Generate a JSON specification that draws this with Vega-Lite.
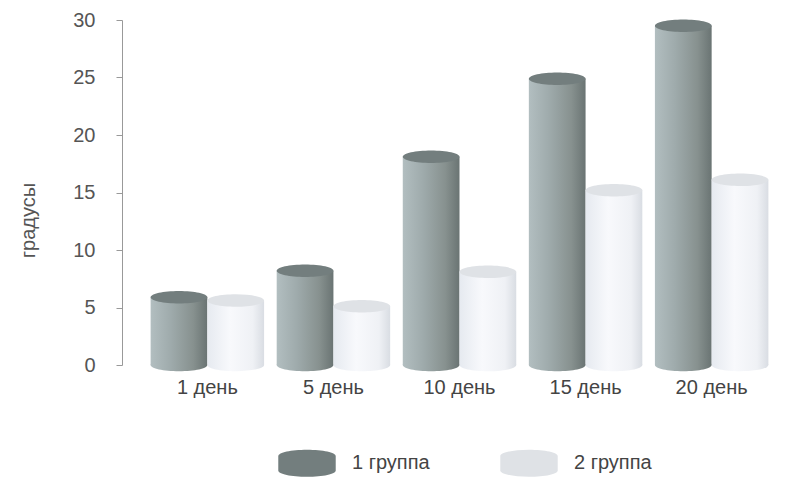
{
  "$schema": "https://vega.github.io/schema/vega-lite/v6.json",
  "autosize": {"type": "none"},
  "padding": {"left": 122, "top": 20, "right": 0, "bottom": 117},
  "width": 675,
  "height": 345,
  "background": "white",
  "config": {
    "view": {"stroke": null},
    "font": "Liberation Sans",
    "axis": {"grid": false, "labelFont": "Liberation Sans", "titleFont": "Liberation Sans"}
  },
  "data": {
    "values": [
      {"day": "1 день", "group": "1 группа", "value": 5.9},
      {"day": "1 день", "group": "2 группа", "value": 5.6},
      {"day": "5 день", "group": "1 группа", "value": 8.2},
      {"day": "5 день", "group": "2 группа", "value": 5.1},
      {"day": "10 день", "group": "1 группа", "value": 18.1},
      {"day": "10 день", "group": "2 группа", "value": 8.1},
      {"day": "15 день", "group": "1 группа", "value": 24.9},
      {"day": "15 день", "group": "2 группа", "value": 15.2},
      {"day": "20 день", "group": "1 группа", "value": 29.5},
      {"day": "20 день", "group": "2 группа", "value": 16.1}
    ]
  },
  "encoding": {
    "x": {
      "field": "day", "type": "nominal", "sort": null,
      "scale": {"paddingInner": 0.1, "paddingOuter": 0.227},
      "axis": {"title": null, "domain": false, "ticks": false, "labelAngle": 0, "labelFontSize": 20, "labelColor": "#444", "labelPadding": 12, "labelDx": -9}
    },
    "xOffset": {"field": "group", "type": "nominal", "scale": {"domain": ["1 группа", "2 группа"], "paddingInner": 0}}
  },
  "layer": [
    {
      "transform": [{"filter": "datum.group === '1 группа'"}],
      "mark": {"type": "bar", "color": {"gradient": "linear", "x1": 0, "x2": 1, "y1": 0, "y2": 0, "stops": [
        {"offset": 0, "color": "#b2bec0"}, {"offset": 0.35, "color": "#9fabac"}, {"offset": 0.75, "color": "#87918f"}, {"offset": 1, "color": "#6a7473"}]}},
      "encoding": {
        "y": {"field": "value", "type": "quantitative",
          "scale": {"domain": [0, 30]},
          "axis": {"title": "градусы", "titleFontSize": 20, "titleFontWeight": "normal", "titleColor": "#555", "titleX": -94, "titleY": 200, "titleAngle": -90, "titleBaseline": "middle", "titleAlign": "center",
            "values": [0, 5, 10, 15, 20, 25, 30], "labelFontSize": 20, "labelColor": "#555", "labelPadding": 21, "tickSize": 6, "tickColor": "#999", "domainColor": "#999"}
        }
      }
    },
    {
      "transform": [{"filter": "datum.group === '2 группа'"}],
      "mark": {"type": "bar", "color": {"gradient": "linear", "x1": 0, "x2": 1, "y1": 0, "y2": 0, "stops": [
        {"offset": 0, "color": "#e6eaf0"}, {"offset": 0.4, "color": "#f8f9fc"}, {"offset": 0.8, "color": "#eff1f5"}, {"offset": 1, "color": "#d9dde3"}]}},
      "encoding": {"y": {"field": "value", "type": "quantitative"}}
    },
    {
      "transform": [{"filter": "datum.group === '1 группа'"}],
      "mark": {"type": "point", "filled": true, "opacity": 1, "size": 3215, "shape": "M-1,0 A1,0.22 0 1,1 1,0 A1,0.22 0 1,1 -1,0 Z",
        "color": {"gradient": "linear", "x1": 0, "x2": 1, "y1": 0, "y2": 0, "stops": [
        {"offset": 0, "color": "#b2bec0"}, {"offset": 0.35, "color": "#9fabac"}, {"offset": 0.75, "color": "#87918f"}, {"offset": 1, "color": "#6a7473"}]}},
      "encoding": {"y": {"datum": 0, "type": "quantitative"}}
    },
    {
      "transform": [{"filter": "datum.group === '2 группа'"}],
      "mark": {"type": "point", "filled": true, "opacity": 1, "size": 3215, "shape": "M-1,0 A1,0.22 0 1,1 1,0 A1,0.22 0 1,1 -1,0 Z",
        "color": {"gradient": "linear", "x1": 0, "x2": 1, "y1": 0, "y2": 0, "stops": [
        {"offset": 0, "color": "#e6eaf0"}, {"offset": 0.4, "color": "#f8f9fc"}, {"offset": 0.8, "color": "#eff1f5"}, {"offset": 1, "color": "#d9dde3"}]}},
      "encoding": {"y": {"datum": 0, "type": "quantitative"}}
    },
    {
      "mark": {"type": "point", "filled": true, "opacity": 1, "size": 3215, "shape": "M-1,0 A1,0.22 0 1,1 1,0 A1,0.22 0 1,1 -1,0 Z"},
      "encoding": {
        "y": {"field": "value", "type": "quantitative"},
        "color": {"field": "group", "type": "nominal",
          "scale": {"domain": ["1 группа", "2 группа"], "range": ["#737e7e", "#dfe2e6"]},
          "legend": {"title": null, "orient": "none", "legendX": 156, "legendY": 414, "direction": "horizontal", "columns": 2, "columnPadding": 70, "padding": 0,
            "symbolType": "M-1,-0.25 A1,0.22 0 0,1 1,-0.25 L1,0.25 A1,0.22 0 0,1 -1,0.25 Z", "symbolSize": 3300, "symbolStrokeWidth": 0,
            "labelFontSize": 20, "labelColor": "#444", "labelOffset": 16, "labelFont": "Liberation Sans"}
        }
      }
    }
  ]
}
